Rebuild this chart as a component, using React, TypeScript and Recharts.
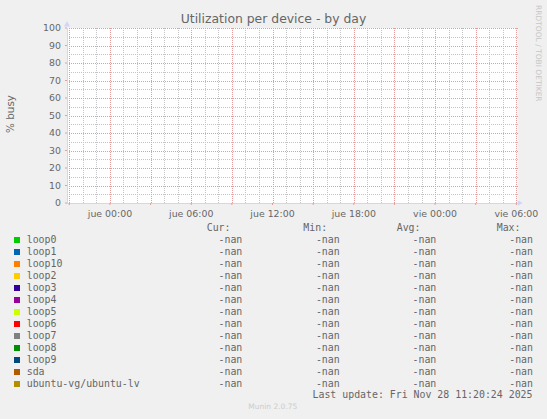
import React from 'react';
import {
  ComposedChart,
  Line,
  XAxis,
  YAxis,
  ReferenceLine,
  ReferenceArea,
  ReferenceDot,
  Legend,
} from 'recharts';

// munin / rrdtool palette
const BACK = '#F0F0F0';
const CANVAS = '#FFFFFF';
const FONT = '#666666';
const AXIS = '#CFD6F8';
const GRID = '#C4C4C4';
const MGRID = '#E79C9C';
const SANS = '"DejaVu Sans", Verdana, sans-serif';
const MONO = '"DejaVu Sans Mono", monospace';

const W = 547;
const H = 419;

// hours counted from "jue 00:00"
const WINDOW = [-3.17, 30.1];
const MAJOR_X = [-3, 0, 3, 6, 9, 12, 15, 18, 21, 24, 27, 30];
const MINOR_X = [-2, -1, 1, 2, 4, 5, 7, 8, 10, 11, 13, 14, 16, 17, 19, 20, 22, 23, 25, 26, 28, 29];
const X_LABELS = [
  { h: 0, text: 'jue 00:00' },
  { h: 6, text: 'jue 06:00' },
  { h: 12, text: 'jue 12:00' },
  { h: 18, text: 'jue 18:00' },
  { h: 24, text: 'vie 00:00' },
  { h: 30, text: 'vie 06:00' },
];
const Y_RANGE = [0, 100];
const MAJOR_Y = [0, 10, 20, 30, 40, 50, 60, 70, 80, 90, 100];
const MINOR_Y = [5, 15, 25, 35, 45, 55, 65, 75, 85, 95];

const DEVICES = [
  'loop0', 'loop1', 'loop10', 'loop2', 'loop3', 'loop4', 'loop5',
  'loop6', 'loop7', 'loop8', 'loop9', 'sda', 'ubuntu-vg/ubuntu-lv',
];
const COLORS = [
  '#00CC00', '#0066B3', '#FF8000', '#FFCC00', '#330099', '#990099', '#CCFF00',
  '#FF0000', '#808080', '#008F00', '#00487D', '#B35A00', '#B38F00',
];
// every device reported -nan over the whole window
const TIMES = [WINDOW[0], WINDOW[1]];
const VALUES: (number | null)[][] = [
  [null, null], [null, null], [null, null], [null, null], [null, null],
  [null, null], [null, null], [null, null], [null, null], [null, null],
  [null, null], [null, null], [null, null],
];

const data = TIMES.map((t, i) => {
  const row: Record<string, number | null> = { t };
  DEVICES.forEach((d, k) => { row[d] = VALUES[k][i]; });
  return row;
});

function stats(vals: (number | null)[]) {
  const v = vals.filter((x): x is number => x != null && isFinite(x));
  if (!v.length) return ['-nan', '-nan', '-nan', '-nan'];
  const f = (n: number) => n.toFixed(2);
  const avg = v.reduce((a, b) => a + b, 0) / v.length;
  return [f(v[v.length - 1]), f(Math.min(...v)), f(avg), f(Math.max(...v))];
}

const COL_HEAD = [206.7, 303.3, 396.7, 496.7];
const COL_END = [242.3, 339.7, 436.3, 533];
const HEADS = ['Cur:', 'Min:', 'Avg:', 'Max:'];

function LegendTable(props: any) {
  const items = (props.payload || []).slice().sort(
    (a: any, b: any) => DEVICES.indexOf(a.value) - DEVICES.indexOf(b.value)
  );
  const txt = { fontFamily: MONO, fontSize: 9.9, fill: FONT };
  return (
    <svg width={W} height={H} style={{ display: 'block' }}>
      {HEADS.map((h, i) => (
        <text key={h} x={COL_HEAD[i]} y={230.7} {...txt}>{h}</text>
      ))}
      {items.map((it: any, r: number) => {
        const y = 243.3 + r * 12;
        const s = stats(VALUES[DEVICES.indexOf(it.value)] || []);
        return (
          <g key={it.value}>
            <rect x={14} y={y - 6} width={6} height={6} fill={it.color} shapeRendering="crispEdges" />
            <text x={26.7} y={y} {...txt}>{it.value}</text>
            {s.map((v, i) => (
              <text key={i} x={COL_END[i]} y={y} textAnchor="end" {...txt}>{v}</text>
            ))}
          </g>
        );
      })}
      <text x={532.5} y={398} textAnchor="end" {...txt}>
        Last update: Fri Nov 28 11:20:24 2025
      </text>
    </svg>
  );
}

// rrdtool snaps its grid to whole pixels
const snap = (v: number) => Math.round(v) + 0.5;
const gridLine = (p: any) => {
  const vertical = Math.abs(p.x1 - p.x2) < 0.01;
  const x1 = vertical ? snap(p.x1) : Math.round(p.x1);
  const x2 = vertical ? snap(p.x2) : Math.round(p.x2);
  const y1 = vertical ? Math.round(p.y1) : snap(p.y1);
  const y2 = vertical ? Math.round(p.y2) : snap(p.y2);
  return (
    <line x1={x1} y1={y1} x2={x2} y2={y2} stroke={p.stroke} strokeWidth={1} strokeDasharray="1 1" />
  );
};

const upArrow = (p: any) => (
  <path d={`M${p.cx - 3},${p.cy - 1.5} L${p.cx},${p.cy - 7} L${p.cx + 3},${p.cy - 1.5} Z`} fill={AXIS} />
);
const rightArrow = (p: any) => (
  <path d={`M${p.cx},${p.cy - 2.8} L${p.cx + 5},${p.cy} L${p.cx},${p.cy + 2.8} Z`} fill={AXIS} />
);

export default function App() {
  const tick = { fontFamily: SANS, fontSize: 9.4, fill: FONT };
  return (
    <div style={{ position: 'absolute', left: 0, top: 0, width: W, height: H, background: BACK, overflow: 'hidden' }}>
      <ComposedChart
        width={W}
        height={H}
        data={data}
        margin={{ top: 28, right: 29.3, left: 27, bottom: 196 }}
      >
        <ReferenceArea x1={WINDOW[0]} x2={WINDOW[1]} y1={Y_RANGE[0]} y2={Y_RANGE[1]} fill={CANVAS} fillOpacity={1} stroke="none" ifOverflow="visible" />
        {MINOR_X.map((h) => (
          <ReferenceLine key={`mx${h}`} x={h} stroke={GRID} ifOverflow="visible" shape={gridLine} />
        ))}
        {MINOR_Y.map((v) => (
          <ReferenceLine key={`my${v}`} y={v} stroke={GRID} ifOverflow="visible" shape={gridLine} />
        ))}
        {MAJOR_X.map((h) => (
          <ReferenceLine key={`Mx${h}`} x={h} stroke={MGRID} ifOverflow="visible" shape={gridLine} />
        ))}
        {MAJOR_Y.map((v) => (
          <ReferenceLine key={`My${v}`} y={v} stroke={MGRID} ifOverflow="visible" shape={gridLine} />
        ))}
        <XAxis
          dataKey="t"
          type="number"
          domain={WINDOW}
          allowDataOverflow
          ticks={MAJOR_X}
          interval={0}
          tickFormatter={(h: number) => X_LABELS.find((l) => l.h === h)?.text ?? ''}
          tick={tick}
          tickSize={2}
          tickMargin={5}
          tickLine={{ stroke: MGRID }}
          axisLine={{ stroke: AXIS, shapeRendering: 'crispEdges' }}
          height={20}
        />
        <YAxis
          type="number"
          domain={Y_RANGE}
          allowDataOverflow
          ticks={MAJOR_Y}
          interval={0}
          tick={tick}
          tickSize={2}
          tickMargin={4}
          tickLine={{ stroke: MGRID }}
          axisLine={{ stroke: AXIS, shapeRendering: 'crispEdges' }}
          width={40}
        />
        <ReferenceDot x={WINDOW[0]} y={Y_RANGE[1]} ifOverflow="visible" shape={upArrow} />
        <ReferenceDot x={WINDOW[1]} y={Y_RANGE[0]} ifOverflow="visible" shape={rightArrow} />
        {DEVICES.map((d, k) => (
          <Line
            key={d}
            dataKey={d}
            name={d}
            stroke={COLORS[k]}
            fill={COLORS[k]}
            dot={false}
            isAnimationActive={false}
          />
        ))}
        <Legend
          verticalAlign="middle"
          align="center"
          layout="horizontal"
          wrapperStyle={{ left: 0, top: 0, width: W, height: H, pointerEvents: 'none' }}
          content={LegendTable}
        />
      </ComposedChart>
      <svg width={W} height={H} style={{ position: 'absolute', left: 0, top: 0, pointerEvents: 'none' }}>
        <text x={273.5} y={23} textAnchor="middle" fontFamily={SANS} fontSize={12.4} fill={FONT}>
          Utilization per device - by day
        </text>
        <text x={14} y={114} textAnchor="middle" transform="rotate(-90 14 114)" fontFamily={SANS} fontSize={10.4} fill={FONT}>
          % busy
        </text>
        <text x={535.7} y={5} transform="rotate(90 535.7 5)" fontFamily={SANS} fontSize={7.5} fill="#C6C6C6">
          RRDTOOL / TOBI OETIKER
        </text>
        <text x={272.8} y={409.3} textAnchor="middle" fontFamily={SANS} fontSize={7.5} fill="#CCCCCC">
          Munin 2.0.75
        </text>
      </svg>
    </div>
  );
}
